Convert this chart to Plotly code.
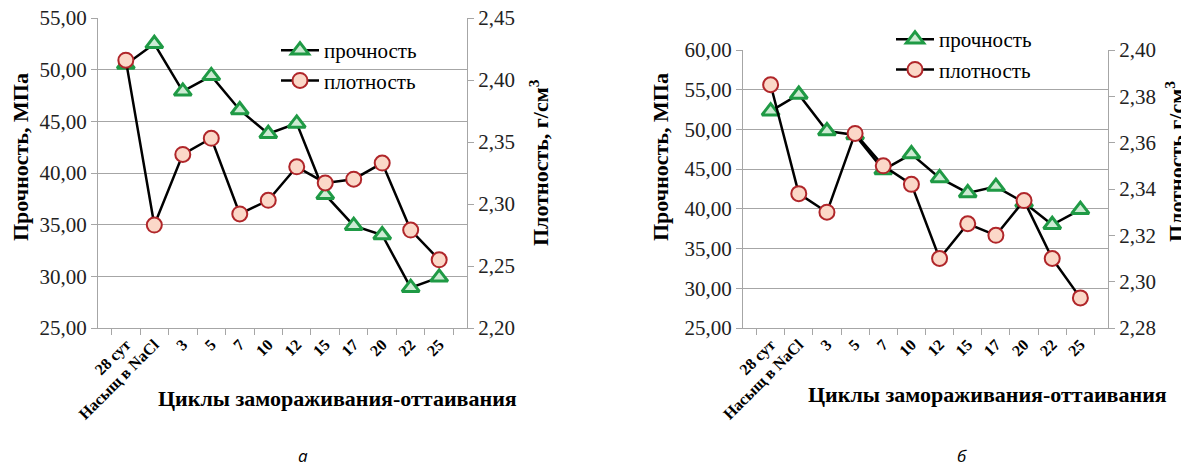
import plotly.graph_objects as go

# The page body has an 8px default margin, so figure pixels = reference pixels - 8.
OFF = 8
W, H = 1189 - OFF, 468 - OFF

categories = ["28 сут", "Насыщ в NaCl", "3", "5", "7", "10", "12", "15", "17", "20", "22", "25"]

strength_a = [50.5, 52.5, 47.9, 49.4, 46.1, 43.8, 44.8, 37.9, 34.9, 34.0, 28.9, 29.9]
density_a = [2.416, 2.283, 2.340, 2.353, 2.292, 2.303, 2.330, 2.317, 2.320, 2.333, 2.279, 2.255]

strength_b = [52.3, 54.4, 49.8, 49.3, 44.9, 46.9, 43.9, 42.0, 42.8, 40.8, 38.0, 39.9]
density_b = [2.385, 2.338, 2.330, 2.364, 2.350, 2.342, 2.310, 2.325, 2.320, 2.335, 2.310, 2.293]

SERIF = "Liberation Serif, Times New Roman, serif"
GREEN = "#1f9a45"
GREEN_FILL = "#cdebd3"
RED = "#b0262a"
RED_FILL = "#fbd8c8"
GRID = "#a6a6a6"


def px_x(p):
    return (p - OFF) / W


def px_y(p):
    return 1 - (p - OFF) / H


fig = go.Figure()

tri = dict(symbol="triangle-up", size=15, color=GREEN_FILL, line=dict(color=GREEN, width=3))
circ = dict(symbol="circle", size=15, color=RED_FILL, line=dict(color=RED, width=2))
line = dict(color="black", width=2.5)

fig.add_trace(go.Scatter(x=categories, y=strength_a, mode="lines+markers", name="прочность",
                         marker=tri, line=line, xaxis="x", yaxis="y", legend="legend"))
fig.add_trace(go.Scatter(x=categories, y=density_a, mode="lines+markers", name="плотность",
                         marker=circ, line=line, xaxis="x", yaxis="y2", legend="legend"))
fig.add_trace(go.Scatter(x=categories, y=strength_b, mode="lines+markers", name="прочность",
                         marker=tri, line=line, xaxis="x2", yaxis="y3", legend="legend2"))
fig.add_trace(go.Scatter(x=categories, y=density_b, mode="lines+markers", name="плотность",
                         marker=circ, line=line, xaxis="x2", yaxis="y4", legend="legend2"))

xcommon = dict(type="category", tickson="boundaries", ticks="outside", ticklen=6, tickcolor=GRID,
               showline=True, linecolor=GRID, linewidth=1, showgrid=False, tickangle=-45,
               automargin=False, ticklabeloverflow="allow",
               tickfont=dict(family=SERIF, size=16, color="black", weight="bold"), fixedrange=True)
ycommon = dict(ticks="outside", ticklen=6, tickcolor=GRID, showline=True, linecolor=GRID,
               automargin=False, ticklabeloverflow="allow",
               tickformat=".2f", tickfont=dict(family=SERIF, size=21, color="#222"), zeroline=False)

ydomA = [px_y(328), px_y(18)]
ydomB = [px_y(328), px_y(50)]

fig.update_layout(
    width=W, height=H, margin=dict(l=0, r=0, t=0, b=0, autoexpand=False),
    paper_bgcolor="white", plot_bgcolor="white",
    separators=", ",
    xaxis=dict(domain=[px_x(98), px_x(467)], anchor="y", **xcommon),
    yaxis=dict(domain=ydomA, anchor="x", range=[25, 55], dtick=5, showgrid=True,
               gridcolor=GRID, gridwidth=1, **ycommon),
    yaxis2=dict(overlaying="y", side="right", anchor="x", range=[2.20, 2.45], dtick=0.05,
                showgrid=False, **ycommon),
    xaxis2=dict(domain=[px_x(743), px_x(1108)], anchor="y3", **xcommon),
    yaxis3=dict(domain=ydomB, anchor="x2", range=[25, 60], dtick=5, showgrid=True,
                gridcolor=GRID, gridwidth=1, **ycommon),
    yaxis4=dict(overlaying="y3", side="right", anchor="x2", range=[2.28, 2.40], dtick=0.02,
                showgrid=False, **ycommon),
    legend=dict(x=px_x(276), y=px_y(30), xanchor="left", yanchor="top", bgcolor="rgba(0,0,0,0)",
                font=dict(family=SERIF, size=21, color="black"), itemsizing="trace", itemwidth=38),
    legend2=dict(x=px_x(891), y=px_y(19), xanchor="left", yanchor="top", bgcolor="rgba(0,0,0,0)",
                 font=dict(family=SERIF, size=21, color="black"), itemsizing="trace", itemwidth=38),
    showlegend=True,
)

title_font = dict(family=SERIF, size=22, color="black", weight="bold")
annotations = [
    dict(text="Прочность, МПа", x=px_x(20), y=px_y(157), textangle=-90, font=title_font),
    dict(text="Плотность, г/см<sup>3</sup>", x=px_x(539), y=px_y(163), textangle=-90, font=title_font),
    dict(text="Циклы замораживания-оттаивания", x=px_x(338), y=px_y(398), font=title_font),
    dict(text="Прочность, МПа", x=px_x(660), y=px_y(157), textangle=-90, font=title_font),
    dict(text="Плотность г/см<sup>3</sup>", x=px_x(1175), y=px_y(162), textangle=-90, font=title_font),
    dict(text="Циклы замораживания-оттаивания", x=px_x(988), y=px_y(394), font=title_font),
    dict(text="а", x=px_x(303), y=px_y(455), font=dict(family="Open Sans, sans-serif", size=17,
                                                        color="black", style="italic")),
    dict(text="б", x=px_x(962), y=px_y(455), font=dict(family="Open Sans, sans-serif", size=17,
                                                        color="black", style="italic")),
]
for a in annotations:
    a.update(xref="paper", yref="paper", showarrow=False, xanchor="center", yanchor="middle")
fig.update_layout(annotations=annotations)

fig.write_html("out.html")
